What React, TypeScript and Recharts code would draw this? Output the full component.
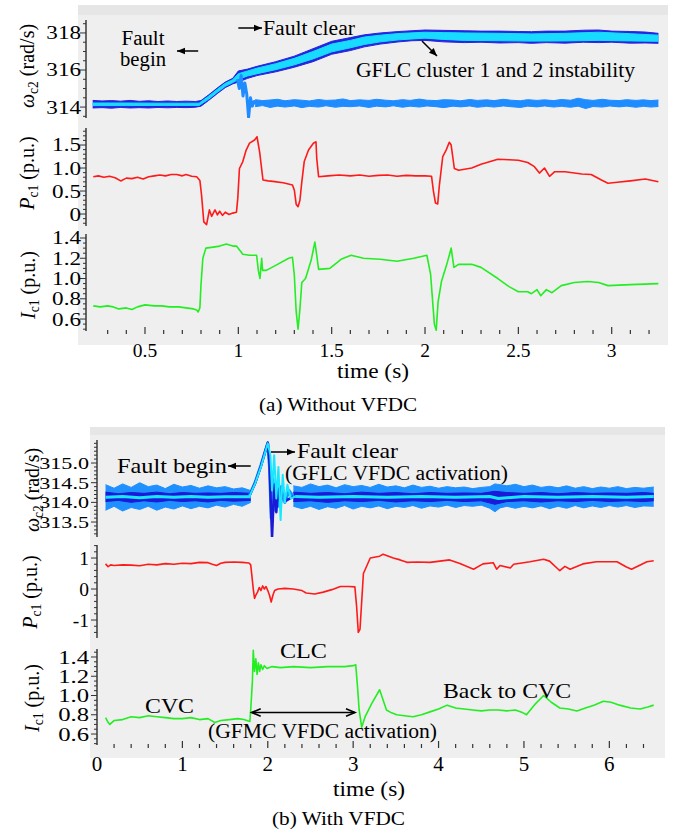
import React from 'react';
import { ComposedChart, Line, Area, XAxis, YAxis, ReferenceLine } from 'recharts';

const W = 675;
const H = 829;
const FONT = '"Liberation Serif", "Times New Roman", serif';

type P2 = [number, number];
type P3 = [number, number, number];

// ================= (a) Without VFDC =================
const faultTimesA = [0.785, 1.0];
const xMajorA = [0.5, 1, 1.5, 2, 2.5, 3];
const xLabelsA = ['0.5', '1', '1.5', '2', '2.5', '3'];
const omegaMajorA = [314, 316, 318];
const omegaLabelsA = ['314', '316', '318'];
const pMajorA = [0, 0.5, 1, 1.5];
const pLabelsA = ['0', '0.5', '1.0', '1.5'];
const iMajorA = [0.6, 0.8, 1.0, 1.2, 1.4];
const iLabelsA = ['0.6', '0.8', '1.0', '1.2', '1.4'];

// GFLC cluster 1 & 2 (unstable): outer (blue) and inner (cyan) bands [t, low, high]
const omegaA_outer: P3[] = [
  [0.22, 313.95, 314.36], [0.27, 313.97, 314.33], [0.32, 313.94, 314.35], [0.37, 313.98, 314.32],
  [0.42, 313.95, 314.36], [0.47, 313.97, 314.31], [0.52, 313.95, 314.34], [0.57, 313.98, 314.3],
  [0.62, 313.96, 314.33], [0.67, 313.98, 314.3], [0.72, 313.97, 314.32], [0.77, 313.99, 314.3],
  [0.8, 314.05, 314.35], [0.84, 314.35, 314.65], [0.89, 314.75, 315.05], [0.93, 315.05, 315.35],
  [0.97, 315.25, 315.55], [1.0, 315.35, 315.95], [1.05, 315.55, 316.05], [1.1, 315.7, 316.2],
  [1.2, 315.9, 316.45], [1.3, 316.15, 316.75], [1.4, 316.45, 317.15], [1.5, 316.85, 317.55],
  [1.6, 317.05, 317.75], [1.675, 317.25, 317.9], [1.76, 317.4, 318.0], [1.86, 317.52, 318.08],
  [1.93, 317.58, 318.12], [2.0, 317.6, 318.16], [2.1, 317.52, 318.14], [2.21, 317.48, 318.12],
  [2.3, 317.5, 318.1], [2.4, 317.46, 318.1], [2.5, 317.48, 318.08], [2.57, 317.44, 318.07],
  [2.65, 317.48, 318.1], [2.75, 317.45, 318.1], [2.85, 317.5, 318.15], [2.93, 317.48, 318.16],
  [3.0, 317.5, 318.1], [3.1, 317.45, 318.08], [3.18, 317.46, 318.05], [3.25, 317.44, 317.98],
];
const omegaA_inner: P3[] = [
  [0.22, 314.08, 314.22], [0.4, 314.08, 314.22], [0.6, 314.09, 314.21], [0.79, 314.09, 314.21],
  [0.84, 314.42, 314.58], [0.89, 314.82, 314.98], [0.93, 315.12, 315.28], [0.97, 315.32, 315.48],
  [1.0, 315.5, 315.8], [1.05, 315.68, 315.95], [1.1, 315.8, 316.1], [1.2, 316.02, 316.34],
  [1.3, 316.28, 316.63], [1.4, 316.6, 317.0], [1.5, 316.98, 317.4], [1.6, 317.2, 317.6],
  [1.675, 317.38, 317.78], [1.76, 317.52, 317.88], [1.86, 317.63, 317.97], [2.0, 317.72, 318.04],
  [2.1, 317.65, 318.02], [2.21, 317.6, 318.0], [2.4, 317.58, 317.98], [2.57, 317.56, 317.95],
  [2.75, 317.57, 317.98], [2.93, 317.6, 318.04], [3.1, 317.57, 317.96], [3.25, 317.55, 317.88],
];
// remaining (stable) GFLC cluster: transient right after clearing, then noisy band
const omegaA_stableTr: P2[] = [
  [0.995, 315.5], [1.005, 315.0], [1.015, 315.7], [1.025, 314.6], [1.035, 315.3], [1.045, 314.7],
  [1.055, 313.45], [1.065, 314.5], [1.075, 314.05], [1.085, 314.3], [1.095, 314.2],
];
const omegaA_stableBand: P3[] = [
  [1.09, 314.02, 314.4], [1.13, 314.08, 314.35], [1.17, 313.98, 314.38], [1.21, 314.05, 314.42],
  [1.25, 314.0, 314.34], [1.3, 314.06, 314.4], [1.34, 313.97, 314.37], [1.38, 314.04, 314.33],
  [1.43, 314.0, 314.41], [1.47, 314.07, 314.36], [1.52, 313.99, 314.38], [1.56, 314.04, 314.44],
  [1.6, 314.02, 314.35], [1.65, 314.06, 314.39], [1.7, 313.98, 314.36], [1.74, 314.05, 314.42],
  [1.79, 314.01, 314.37], [1.83, 314.07, 314.34], [1.88, 313.99, 314.4], [1.92, 314.05, 314.36],
  [1.97, 314.0, 314.43], [2.01, 314.06, 314.37], [2.06, 314.02, 314.35], [2.1, 313.97, 314.4],
  [2.15, 314.05, 314.38], [2.19, 314.01, 314.34], [2.24, 314.06, 314.41], [2.28, 313.99, 314.36],
  [2.33, 314.04, 314.39], [2.37, 314.0, 314.35], [2.42, 314.06, 314.42], [2.46, 314.02, 314.37],
  [2.51, 313.98, 314.34], [2.55, 314.05, 314.4], [2.6, 314.01, 314.36], [2.64, 314.06, 314.39],
  [2.69, 314.0, 314.35], [2.73, 314.04, 314.41], [2.78, 313.99, 314.37], [2.82, 314.05, 314.48],
  [2.86, 313.92, 314.4], [2.9, 314.03, 314.36], [2.95, 314.0, 314.42], [2.99, 314.06, 314.37],
  [3.04, 314.01, 314.35], [3.08, 314.05, 314.4], [3.13, 313.99, 314.36], [3.17, 314.04, 314.39],
  [3.21, 314.0, 314.35], [3.25, 314.03, 314.38],
];
const pA: P2[] = [
  [0.223, 0.81], [0.25, 0.83], [0.28, 0.8], [0.31, 0.82], [0.34, 0.79], [0.37, 0.72], [0.4, 0.78],
  [0.43, 0.77], [0.46, 0.8], [0.49, 0.76], [0.52, 0.81], [0.55, 0.83], [0.58, 0.85], [0.61, 0.83],
  [0.64, 0.86], [0.67, 0.86], [0.7, 0.83], [0.72, 0.86], [0.75, 0.82], [0.777, 0.81], [0.794, 0.73],
  [0.803, 0.41], [0.815, -0.17], [0.83, -0.23], [0.845, 0.09], [0.857, -0.05], [0.875, 0.09],
  [0.888, -0.02], [0.9, 0.06], [0.915, -0.03], [0.93, 0.04], [0.95, -0.01], [0.97, 0.02],
  [0.99, 0.04], [0.997, 0.34], [1.006, 0.99], [1.024, 1.14], [1.042, 1.39], [1.06, 1.54],
  [1.087, 1.61], [1.1, 1.68], [1.114, 1.35], [1.132, 0.74], [1.16, 0.72], [1.185, 0.71],
  [1.24, 0.68], [1.29, 0.63], [1.3, 0.52], [1.31, 0.21], [1.32, 0.16], [1.33, 0.3], [1.34, 0.7],
  [1.353, 1.14], [1.376, 1.39], [1.402, 1.54], [1.416, 1.57], [1.42, 1.21], [1.43, 0.81],
  [1.48, 0.83], [1.54, 0.85], [1.6, 0.83], [1.65, 0.85], [1.7, 0.82], [1.75, 0.84], [1.8, 0.85],
  [1.85, 0.82], [1.9, 0.84], [1.95, 0.83], [2.0, 0.83], [2.035, 0.82], [2.045, 0.5], [2.056, 0.24],
  [2.068, 0.22], [2.077, 0.63], [2.095, 1.25], [2.113, 1.39], [2.13, 1.56], [2.14, 1.5],
  [2.157, 0.99], [2.18, 0.95], [2.25, 1.0], [2.3, 1.08], [2.39, 1.19], [2.45, 1.18], [2.5, 1.17],
  [2.55, 1.12], [2.586, 1.03], [2.613, 0.89], [2.64, 1.0], [2.667, 0.82], [2.695, 0.92],
  [2.75, 0.92], [2.84, 0.87], [2.89, 0.86], [2.945, 0.74], [2.98, 0.67], [3.03, 0.69], [3.1, 0.72],
  [3.18, 0.76], [3.25, 0.7],
];
const iA: P2[] = [
  [0.223, 0.73], [0.26, 0.72], [0.3, 0.73], [0.33, 0.72], [0.36, 0.7], [0.4, 0.71], [0.43, 0.695],
  [0.46, 0.72], [0.5, 0.74], [0.55, 0.73], [0.59, 0.73], [0.63, 0.72], [0.68, 0.72], [0.72, 0.71],
  [0.76, 0.7], [0.777, 0.69], [0.785, 0.67], [0.794, 0.71], [0.8, 0.94], [0.81, 1.2], [0.826, 1.3],
  [0.865, 1.31], [0.9, 1.32], [0.936, 1.34], [0.97, 1.32], [0.99, 1.32], [1.024, 1.24], [1.06, 1.23],
  [1.098, 1.23], [1.107, 1.08], [1.116, 1.0], [1.125, 1.2], [1.13, 1.08], [1.15, 1.08], [1.2, 1.13],
  [1.27, 1.2], [1.29, 1.21], [1.3, 1.03], [1.31, 0.67], [1.32, 0.5], [1.33, 0.7], [1.34, 0.96],
  [1.36, 1.0], [1.39, 1.18], [1.41, 1.36], [1.42, 1.23], [1.43, 1.09], [1.49, 1.1], [1.55, 1.19],
  [1.604, 1.23], [1.67, 1.2], [1.76, 1.19], [1.85, 1.17], [1.94, 1.2], [2.01, 1.23], [2.03, 1.04],
  [2.05, 0.55], [2.06, 0.49], [2.07, 0.77], [2.088, 0.97], [2.115, 1.13], [2.13, 1.23], [2.14, 1.3],
  [2.155, 1.11], [2.18, 1.14], [2.25, 1.14], [2.3, 1.11], [2.39, 1.0], [2.45, 0.92], [2.5, 0.87],
  [2.55, 0.87], [2.57, 0.85], [2.6, 0.89], [2.62, 0.83], [2.65, 0.89], [2.68, 0.86], [2.73, 0.93],
  [2.8, 0.96], [2.87, 0.97], [2.93, 0.96], [2.98, 0.93], [3.1, 0.94], [3.25, 0.95],
];

// ================= (b) With VFDC =================
const faultTimesB = [1.8, 2.037, 3.033];
const xMajorB = [0, 1, 2, 3, 4, 5, 6];
const xLabelsB = ['0', '1', '2', '3', '4', '5', '6'];
const omegaMajorB = [313.5, 314.0, 314.5, 315.0];
const omegaLabelsB = ['313.5', '314.0', '314.5', '315.0'];
const pMajorB = [-1, 0, 1];
const pLabelsB = ['-1', '0', '1'];
const iMajorB = [0.6, 0.8, 1.0, 1.2, 1.4];
const iLabelsB = ['0.6', '0.8', '1.0', '1.2', '1.4'];

const omegaB_lightPre: P3[] = [
  [0.1, 313.8, 314.45], [0.2, 313.9, 314.36], [0.3, 313.78, 314.47], [0.4, 313.87, 314.38],
  [0.5, 313.82, 314.5], [0.6, 313.9, 314.4], [0.7, 313.8, 314.44], [0.8, 313.88, 314.35],
  [0.9, 313.83, 314.46], [1.0, 313.91, 314.39], [1.1, 313.84, 314.43], [1.2, 313.9, 314.36],
  [1.3, 313.86, 314.42], [1.4, 313.93, 314.37], [1.5, 313.88, 314.4], [1.6, 313.95, 314.34],
  [1.7, 313.9, 314.37], [1.8, 314.0, 314.3],
];
const omegaB_lightPost: P3[] = [
  [2.3, 313.9, 314.42], [2.4, 313.84, 314.38], [2.5, 313.9, 314.47], [2.6, 313.82, 314.4],
  [2.7, 313.89, 314.44], [2.8, 313.85, 314.37], [2.9, 313.92, 314.45], [3.0, 313.83, 314.4],
  [3.1, 313.9, 314.43], [3.2, 313.86, 314.38], [3.3, 313.91, 314.46], [3.4, 313.84, 314.39],
  [3.5, 313.9, 314.42], [3.6, 313.87, 314.37], [3.7, 313.92, 314.44], [3.8, 313.85, 314.38],
  [3.9, 313.91, 314.41], [4.0, 313.88, 314.36], [4.1, 313.93, 314.4], [4.2, 313.87, 314.37],
  [4.3, 313.92, 314.39], [4.4, 313.9, 314.35], [4.5, 313.93, 314.38], [4.6, 313.85, 314.4],
  [4.66, 313.76, 314.47], [4.72, 313.86, 314.45], [4.8, 313.9, 314.42], [4.9, 313.85, 314.46],
  [5.0, 313.9, 314.4], [5.1, 313.86, 314.44], [5.2, 313.91, 314.38], [5.3, 313.84, 314.41],
  [5.4, 313.9, 314.37], [5.5, 313.85, 314.42], [5.6, 313.92, 314.36], [5.7, 313.86, 314.4],
  [5.8, 313.91, 314.35], [5.9, 313.87, 314.39], [6.0, 313.92, 314.36], [6.1, 313.88, 314.4],
  [6.2, 313.92, 314.35], [6.3, 313.87, 314.38], [6.4, 313.91, 314.36], [6.52, 313.9, 314.39],
];
const omegaB_darkPre: P3[] = [
  [0.1, 314.02, 314.26], [0.25, 314.05, 314.22], [0.4, 314.0, 314.25], [0.55, 314.04, 314.23],
  [0.7, 314.01, 314.26], [0.85, 314.05, 314.22], [1.0, 314.02, 314.25], [1.15, 314.04, 314.23],
  [1.3, 314.01, 314.24], [1.45, 314.05, 314.23], [1.6, 314.03, 314.25], [1.8, 314.05, 314.23],
];
const omegaB_darkPost: P3[] = [
  [2.3, 314.02, 314.26], [2.5, 314.04, 314.23], [2.7, 314.0, 314.25], [2.9, 314.04, 314.22],
  [3.1, 314.02, 314.26], [3.3, 314.05, 314.23], [3.5, 314.01, 314.25], [3.7, 314.04, 314.22],
  [3.9, 314.02, 314.25], [4.1, 314.05, 314.23], [4.3, 314.02, 314.24], [4.5, 314.04, 314.23],
  [4.66, 313.95, 314.28], [4.8, 314.02, 314.25], [5.0, 314.04, 314.23], [5.2, 314.01, 314.25],
  [5.4, 314.04, 314.22], [5.6, 314.02, 314.25], [5.8, 314.05, 314.23], [6.0, 314.02, 314.24],
  [6.2, 314.04, 314.23], [6.4, 314.02, 314.25], [6.52, 314.04, 314.23],
];
const omegaB_cyanPre: P2[] = [
  [0.1, 314.13], [0.3, 314.15], [0.5, 314.12], [0.7, 314.15], [0.9, 314.13], [1.1, 314.15],
  [1.3, 314.13], [1.5, 314.14], [1.8, 314.14],
];
const omegaB_cyanPost: P2[] = [
  [2.32, 314.15], [2.6, 314.13], [3.0, 314.15], [3.4, 314.13], [3.8, 314.15], [4.2, 314.13],
  [4.6, 314.15], [4.7, 314.1], [5.0, 314.15], [5.4, 314.13], [5.8, 314.15], [6.2, 314.13],
  [6.52, 314.15],
];
const omegaB_lightTr: P2[] = [
  [1.78, 314.15], [1.85, 314.5], [1.92, 314.95], [1.97, 315.3], [2.0, 315.5], [2.02, 314.9],
  [2.04, 313.6], [2.06, 314.6], [2.08, 313.8], [2.1, 314.5], [2.13, 313.9], [2.16, 314.4],
  [2.2, 314.0], [2.25, 314.3], [2.3, 314.15],
];
const omegaB_darkTr: P2[] = [
  [1.78, 314.14], [1.85, 314.48], [1.92, 314.92], [1.97, 315.3], [2.0, 315.52], [2.02, 315.0],
  [2.035, 314.0], [2.05, 313.1], [2.065, 313.9], [2.08, 314.45], [2.1, 313.75], [2.12, 314.35],
  [2.15, 313.95], [2.18, 314.3], [2.22, 314.05], [2.3, 314.15],
];
const omegaB_cyanTr: P2[] = [
  [1.78, 314.13], [1.85, 314.47], [1.92, 314.9], [1.97, 315.28], [2.0, 315.5], [2.03, 315.2],
  [2.05, 314.3], [2.075, 315.2], [2.1, 314.1], [2.125, 314.9], [2.15, 313.55], [2.175, 314.7],
  [2.2, 314.0], [2.23, 314.45], [2.27, 314.1], [2.32, 314.15],
];
const pB: P2[] = [
  [0.1, 0.81], [0.13, 0.72], [0.16, 0.78], [0.2, 0.76], [0.3, 0.78], [0.4, 0.77], [0.5, 0.75],
  [0.6, 0.8], [0.7, 0.78], [0.8, 0.82], [0.9, 0.8], [1.0, 0.83], [1.1, 0.82], [1.2, 0.86],
  [1.3, 0.85], [1.35, 0.8], [1.4, 0.76], [1.45, 0.83], [1.5, 0.86], [1.6, 0.87], [1.7, 0.86],
  [1.78, 0.84], [1.8, 0.78], [1.815, 0.4], [1.83, 0.0], [1.845, -0.3], [1.86, -0.2], [1.88, -0.1],
  [1.9, 0.05], [1.92, -0.05], [1.94, 0.1], [1.96, 0.0], [1.98, 0.08], [2.0, -0.05], [2.02, -0.2],
  [2.04, -0.42], [2.06, -0.2], [2.08, -0.05], [2.12, 0.0], [2.2, 0.02], [2.3, 0.0], [2.4, -0.05],
  [2.45, -0.13], [2.55, -0.16], [2.65, -0.1], [2.75, -0.02], [2.85, 0.08], [2.95, 0.08],
  [3.02, 0.07], [3.04, -0.55], [3.06, -1.4], [3.08, -1.3], [3.1, -0.4], [3.12, 0.5], [3.2, 1.0],
  [3.31, 1.06], [3.35, 1.12], [3.47, 1.0], [3.55, 0.94], [3.63, 0.86], [3.75, 0.87], [3.9, 0.86],
  [4.13, 0.94], [4.25, 0.82], [4.41, 0.64], [4.52, 0.81], [4.64, 0.85], [4.68, 0.64], [4.72, 0.76],
  [4.84, 0.68], [4.88, 0.8], [5.07, 0.88], [5.23, 0.96], [5.3, 0.9], [5.42, 0.59], [5.48, 0.73],
  [5.54, 0.64], [5.69, 0.81], [5.85, 0.88], [6.09, 0.88], [6.2, 0.71], [6.26, 0.64], [6.32, 0.72],
  [6.44, 0.88], [6.52, 0.91],
];
const iB: P2[] = [
  [0.1, 0.77], [0.13, 0.72], [0.15, 0.7], [0.2, 0.74], [0.3, 0.75], [0.4, 0.78], [0.5, 0.77],
  [0.6, 0.79], [0.7, 0.78], [0.8, 0.77], [0.9, 0.76], [1.0, 0.76], [1.1, 0.77], [1.2, 0.75],
  [1.3, 0.76], [1.38, 0.72], [1.45, 0.74], [1.55, 0.75], [1.65, 0.76], [1.72, 0.75], [1.79, 0.73],
  [1.8, 0.85], [1.82, 1.15], [1.83, 1.47], [1.845, 1.25], [1.86, 1.38], [1.875, 1.22], [1.89, 1.34],
  [1.905, 1.25], [1.92, 1.32], [1.94, 1.27], [1.96, 1.31], [1.99, 1.28], [2.05, 1.3], [2.15, 1.29],
  [2.3, 1.3], [2.5, 1.29], [2.7, 1.3], [2.9, 1.3], [3.0, 1.31], [3.03, 1.32], [3.05, 1.1],
  [3.07, 0.85], [3.1, 0.67], [3.14, 0.78], [3.22, 0.92], [3.31, 1.06], [3.39, 0.85], [3.45, 0.82],
  [3.51, 0.8], [3.6, 0.79], [3.7, 0.78], [3.8, 0.8], [3.9, 0.83], [4.0, 0.86], [4.1, 0.9],
  [4.2, 0.87], [4.3, 0.86], [4.4, 0.85], [4.5, 0.84], [4.6, 0.85], [4.7, 0.85], [4.8, 0.84],
  [4.9, 0.85], [4.99, 0.82], [5.03, 0.8], [5.12, 0.9], [5.23, 1.0], [5.32, 0.93], [5.42, 0.87],
  [5.52, 0.86], [5.62, 0.84], [5.72, 0.87], [5.82, 0.9], [5.93, 0.94], [6.02, 0.93], [6.12, 0.9],
  [6.25, 0.87], [6.36, 0.86], [6.45, 0.88], [6.52, 0.9],
];

// ================= helpers =================
const steps = (from: number, to: number, step: number): number[] => {
  const n = Math.round((to - from) / step);
  const out: number[] = [];
  for (let i = 0; i <= n; i++) out.push(+(from + i * step).toFixed(6));
  return out;
};
const toLine = (a: P2[]) => a.map(([t, v]) => ({ t, v }));
const toBand = (a: P3[]) => a.map(([t, lo, hi]) => ({ t, r: [lo, hi] }));
const approxW = (s: string, fs: number) =>
  s.split('').reduce((w, c) => w + (c === '.' ? 0.25 : c === '-' ? 0.333 : 0.5), 0) * fs;

const mkLine = (key: string, d: P2[], color: string, w: number) => (
  <Line key={key} data={toLine(d)} dataKey="v" type="linear" stroke={color} strokeWidth={w}
    strokeLinejoin="round" dot={false} activeDot={false} isAnimationActive={false} />
);
const mkBand = (key: string, d: P3[], color: string) => (
  <Area key={key} data={toBand(d)} dataKey="r" type="linear" stroke={color} strokeWidth={1}
    fill={color} fillOpacity={1} dot={false} activeDot={false} isAnimationActive={false} />
);

interface YSpec {
  ticks: number[];
  majors: number[];
  labels: string[];
  fs: number;
  gap: number;
  stretch: number;
}

const yTick = (s: YSpec) => (p: any) => {
  const { x, y, payload } = p;
  const idx = s.majors.findIndex((m) => Math.abs(m - payload.value) < 1e-6);
  const lab = idx >= 0 ? s.labels[idx] : '';
  const tl = s.stretch !== 1 ? approxW(lab, s.fs) * s.stretch : undefined;
  return (
    <g>
      <line x1={x} x2={x - (idx >= 0 ? 6 : 3)} y1={y} y2={y} stroke="#333" strokeWidth={1} />
      {idx >= 0 ? (
        <text x={x - s.gap} y={y} dy="0.35em" textAnchor="end" fontFamily={FONT} fontSize={s.fs}
          fill="#000" textLength={tl} lengthAdjust="spacingAndGlyphs">{lab}</text>
      ) : null}
    </g>
  );
};

function Panel(props: {
  top: number; bottom: number; left: number; right: number;
  xDomain: [number, number]; yDomain: [number, number]; y: YSpec; children: React.ReactNode;
}) {
  const YW = 60;
  const { top, bottom, left, right } = props;
  return (
    <div style={{ position: 'absolute', left: 0, top: 0 }}>
      <ComposedChart width={W} height={H}
        margin={{ top, bottom: H - bottom, left: left - YW, right: W - right }}>
        <XAxis type="number" dataKey="t" domain={props.xDomain} allowDataOverflow hide />
        <YAxis type="number" domain={props.yDomain} allowDataOverflow width={YW} ticks={props.y.ticks}
          interval={0} tickLine={false} tickSize={0} tickMargin={0}
          axisLine={{ stroke: '#3a3a3a', strokeWidth: 1.5 }} tick={yTick(props.y)} />
        {props.children}
      </ComposedChart>
    </div>
  );
}

function Frame(props: {
  top: number; bottom: number; left: number; right: number;
  xDomain: [number, number]; xTicks: number[]; xMajors: number[]; xLabels: string[]; xFs: number;
  axisFrom: number; axisTo: number; faults: { t: number; y1: number; y2: number }[]; rightStep: number;
}) {
  const XH = 40;
  const { top, bottom, left, right } = props;
  const fy = (px: number) => (bottom - px) / (bottom - top);
  const rTicks = steps(0, 1, props.rightStep / (bottom - top)).filter((v) => v <= 1);
  const xTick = (p: any) => {
    const { x, y, payload } = p;
    const v = payload.value;
    const idx = props.xMajors.findIndex((m) => Math.abs(m - v) < 1e-6);
    const showLine = v >= props.axisFrom - 1e-6;
    return (
      <g>
        {showLine ? <line x1={x} x2={x} y1={y} y2={y - (idx >= 0 ? 7 : 4)} stroke="#333" strokeWidth={1.2} /> : null}
        {idx >= 0 ? (
          <text x={x} y={y + 23} textAnchor="middle" fontFamily={FONT} fontSize={props.xFs} fill="#000">
            {props.xLabels[idx]}
          </text>
        ) : null}
      </g>
    );
  };
  const rTick = (p: any) => (
    <line x1={p.x} x2={p.x + 3} y1={p.y} y2={p.y} stroke="#555" strokeWidth={1} />
  );
  return (
    <div style={{ position: 'absolute', left: 0, top: 0 }}>
      <ComposedChart width={W} height={H}
        margin={{ top, bottom: H - bottom - XH, left, right: W - right }}>
        <XAxis type="number" dataKey="t" domain={props.xDomain} allowDataOverflow ticks={props.xTicks}
          interval={0} height={XH} axisLine={false} tickLine={false} tickSize={0} tickMargin={0} tick={xTick} />
        <YAxis hide type="number" domain={[0, 1]} />
        <YAxis yAxisId="r" orientation="right" width={0} type="number" domain={[0, 1]} ticks={rTicks}
          interval={0} tickLine={false} tickSize={0} tickMargin={0}
          axisLine={{ stroke: '#666', strokeWidth: 1.2 }} tick={rTick} />
        {props.faults.map((f, i) => (
          <ReferenceLine key={'f' + i} segment={[{ x: f.t, y: fy(f.y1) }, { x: f.t, y: fy(f.y2) }]}
            stroke="#8c8c8c" strokeDasharray="3 3" strokeWidth={1.3} ifOverflow="visible" />
        ))}
        <ReferenceLine segment={[{ x: props.axisFrom, y: 0 }, { x: props.axisTo, y: 0 }]}
          stroke="#3a3a3a" strokeWidth={2} ifOverflow="visible" />
      </ComposedChart>
    </div>
  );
}

// overlay helpers
function Arrow({ x1, y1, x2, y2, head = 8, open = false, both = false }:
  { x1: number; y1: number; x2: number; y2: number; head?: number; open?: boolean; both?: boolean }) {
  const tip = (x: number, y: number, ang: number, k: string) => {
    const bx = x - head * Math.cos(ang);
    const by = y - head * Math.sin(ang);
    const w = head * 0.42;
    const pA = [bx + w * Math.sin(ang), by - w * Math.cos(ang)];
    const pB = [bx - w * Math.sin(ang), by + w * Math.cos(ang)];
    return open ? (
      <polyline key={k} points={`${pA[0]},${pA[1]} ${x},${y} ${pB[0]},${pB[1]}`} fill="none" stroke="#000" strokeWidth={1.6} />
    ) : (
      <polygon key={k} points={`${x},${y} ${pA[0]},${pA[1]} ${pB[0]},${pB[1]}`} fill="#000" />
    );
  };
  const ang = Math.atan2(y2 - y1, x2 - x1);
  return (
    <g>
      <line x1={x1} y1={y1} x2={x2} y2={y2} stroke="#000" strokeWidth={1.5} />
      {tip(x2, y2, ang, 'a')}
      {both ? tip(x1, y1, ang + Math.PI, 'b') : null}
    </g>
  );
}

function T({ x, y, fs, len, anchor = 'start', children }:
  { x: number; y: number; fs: number; len?: number; anchor?: string; children: React.ReactNode }) {
  return (
    <text x={x} y={y} fontSize={fs} fontFamily={FONT} fill="#000" textAnchor={anchor as any}
      textLength={len} lengthAdjust={len ? 'spacingAndGlyphs' : undefined}>{children}</text>
  );
}

function YTitle({ x, y, sym, sub, unit, fs = 20 }:
  { x: number; y: number; sym: string; sub: string; unit: string; fs?: number }) {
  return (
    <text x={x} y={y} fontSize={fs} fontFamily={FONT} fill="#000" textAnchor="middle"
      transform={`rotate(-90, ${x}, ${y})`}>
      <tspan fontStyle="italic">{sym}</tspan>
      <tspan fontSize={fs * 0.68} dy={fs * 0.2}>{sub}</tspan>
      <tspan dy={-fs * 0.2}>{' (' + unit + ')'}</tspan>
    </text>
  );
}

// layout (pixels)
const A = { left: 86, right: 665, t0: 0.184, t1: 3.2855 };
const B = { left: 97, right: 661, t0: 0, t1: 6.605 };
const pxA = (t: number) => A.left + ((t - A.t0) / (A.t1 - A.t0)) * (A.right - A.left);
const pxB = (t: number) => B.left + ((t - B.t0) / (B.t1 - B.t0)) * (B.right - B.left);

export default function App() {
  const xdA: [number, number] = [A.t0, A.t1];
  const xdB: [number, number] = [B.t0, B.t1];
  const fb = pxA(faultTimesA[0]);
  const fc = pxA(faultTimesA[1]);
  const fbB = pxB(faultTimesB[0]);
  const fcB = pxB(faultTimesB[1]);
  const fdB = pxB(faultTimesB[2]);
  return (
    <div style={{ position: 'absolute', left: 0, top: 0, width: W, height: H, background: '#fff', overflow: 'hidden' }}>
      {/* gray plot backgrounds */}
      <div style={{ position: 'absolute', left: 78, top: 5, width: 590, height: 340, background: '#efefef' }} />
      <div style={{ position: 'absolute', left: 78, top: 5, width: 590, height: 10, background: '#e6e6e6' }} />
      <div style={{ position: 'absolute', left: 90, top: 427, width: 575, height: 331, background: '#efefef' }} />
      <div style={{ position: 'absolute', left: 90, top: 427, width: 575, height: 8, background: '#e6e6e6' }} />

      {/* ---------- (a) ---------- */}
      <Frame top={14} bottom={334} left={A.left} right={A.right} xDomain={xdA}
        xTicks={steps(0.3, 3.2, 0.1)} xMajors={xMajorA} xLabels={xLabelsA} xFs={19.5}
        axisFrom={0.23} axisTo={3.25} rightStep={13}
        faults={[{ t: faultTimesA[0], y1: 20, y2: 334 }, { t: faultTimesA[1], y1: 20, y2: 334 }]} />
      <Panel top={20} bottom={118} left={A.left} right={A.right} xDomain={xdA} yDomain={[313.41, 318.7]}
        y={{ ticks: steps(313.5, 318.5, 0.5), majors: omegaMajorA, labels: omegaLabelsA, fs: 18.5, gap: 5, stretch: 1.25 }}>
        {[
          mkBand('stableBand', omegaA_stableBand, '#1e8cff'),
          mkLine('stableTr', omegaA_stableTr, '#1e8cff', 3),
          mkBand('outer', omegaA_outer, '#2525e0'),
          mkBand('inner', omegaA_inner, '#18dcff'),
        ]}
      </Panel>
      <Panel top={128} bottom={226} left={A.left} right={A.right} xDomain={xdA} yDomain={[-0.26, 1.87]}
        y={{ ticks: steps(-0.2, 1.8, 0.1), majors: pMajorA, labels: pLabelsA, fs: 18.5, gap: 5, stretch: 1.25 }}>
        {[mkLine('pA', pA, '#ff1a1a', 1.6)]}
      </Panel>
      <Panel top={234} bottom={331} left={A.left} right={A.right} xDomain={xdA} yDomain={[0.482, 1.4395]}
        y={{ ticks: steps(0.5, 1.4, 0.05), majors: iMajorA, labels: iLabelsA, fs: 18.5, gap: 5, stretch: 1.25 }}>
        {[mkLine('iA', iA, '#22ee22', 1.6)]}
      </Panel>

      {/* ---------- (b) ---------- */}
      <Frame top={433} bottom={748} left={B.left} right={B.right} xDomain={xdB}
        xTicks={steps(0, 6.4, 0.2)} xMajors={xMajorB} xLabels={xLabelsB} xFs={21}
        axisFrom={0.117} axisTo={6.52} rightStep={13.3}
        faults={[
          { t: faultTimesB[0], y1: 440, y2: 748 },
          { t: faultTimesB[1], y1: 440, y2: 615 },
          { t: faultTimesB[2], y1: 548, y2: 755 },
        ]} />
      <Panel top={440} bottom={537} left={B.left} right={B.right} xDomain={xdB} yDomain={[313.12, 315.585]}
        y={{ ticks: steps(313.2, 315.5, 0.1), majors: omegaMajorB, labels: omegaLabelsB, fs: 17, gap: 8, stretch: 1.3 }}>
        {[
          mkBand('lpre', omegaB_lightPre, '#1e90ff'),
          mkBand('lpost', omegaB_lightPost, '#1e90ff'),
          mkLine('ltr', omegaB_lightTr, '#1e90ff', 3),
          mkBand('dpre', omegaB_darkPre, '#1a1ad8'),
          mkBand('dpost', omegaB_darkPost, '#1a1ad8'),
          mkLine('dtr', omegaB_darkTr, '#1a1ad8', 2.5),
          mkLine('cpre', omegaB_cyanPre, '#19e6ff', 3),
          mkLine('cpost', omegaB_cyanPost, '#19e6ff', 3),
          mkLine('ctr', omegaB_cyanTr, '#19e6ff', 2),
        ]}
      </Panel>
      <Panel top={545} bottom={638} left={B.left} right={B.right} xDomain={xdB} yDomain={[-1.58, 1.42]}
        y={{ ticks: steps(-1.4, 1.4, 0.2), majors: pMajorB, labels: pLabelsB, fs: 19.5, gap: 8, stretch: 1 }}>
        {[mkLine('pB', pB, '#ff1a1a', 1.6)]}
      </Panel>
      <Panel top={649} bottom={745} left={B.left} right={B.right} xDomain={xdB} yDomain={[0.486, 1.483]}
        y={{ ticks: steps(0.5, 1.45, 0.05), majors: iMajorB, labels: iLabelsB, fs: 19, gap: 8, stretch: 1.3 }}>
        {[mkLine('iB', iB, '#22ee22', 1.6)]}
      </Panel>

      {/* ---------- annotations ---------- */}
      <svg width={W} height={H} style={{ position: 'absolute', left: 0, top: 0, pointerEvents: 'none' }}>
        {/* (a) */}
        <YTitle x={34} y={66} sym="ω" sub="c2" unit="rad/s" />
        <YTitle x={34} y={173} sym="P" sub="c1" unit="p.u." />
        <YTitle x={35} y={285} sym="I" sub="c1" unit="p.u." />
        <T x={143} y={45} fs={20} anchor="middle" len={43}>Fault</T>
        <T x={143} y={66} fs={20} anchor="middle" len={46}>begin</T>
        <Arrow x1={fb} y1={51} x2={177} y2={51} />
        <Arrow x1={fc} y1={28} x2={262} y2={28} />
        <T x={263} y={35} fs={20} len={92}>Fault clear</T>
        <Arrow x1={422} y1={41} x2={437} y2={56} />
        <T x={356} y={77} fs={21} len={279}>GFLC cluster 1 and 2 instability</T>
        <T x={337} y={378} fs={21} len={72}>time (s)</T>
        <T x={338} y={411} fs={19} anchor="middle" len={158}>(a) Without VFDC</T>

        {/* (b) */}
        <YTitle x={39} y={490} sym="ω" sub="c2" unit="rad/s" />
        <YTitle x={37} y={592} sym="P" sub="c1" unit="p.u." />
        <YTitle x={39} y={698} sym="I" sub="c1" unit="p.u." />
        <T x={117} y={473} fs={21} len={110}>Fault begin</T>
        <Arrow x1={fbB} y1={466} x2={228} y2={466} />
        <Arrow x1={fcB} y1={452} x2={295} y2={452} />
        <T x={297} y={458} fs={22} len={101}>Fault clear</T>
        <T x={285} y={480} fs={20} len={223}>(GFLC VFDC activation)</T>
        <T x={280} y={658} fs={22} len={47}>CLC</T>
        <T x={145} y={713} fs={22} len={49}>CVC</T>
        <T x={443} y={698} fs={22} len={128}>Back to CVC</T>
        <Arrow x1={fbB + 1} y1={712.5} x2={fdB - 1} y2={712.5} open both head={9} />
        <T x={208} y={738} fs={20} len={229}>(GFMC VFDC activation)</T>
        <T x={333} y={796} fs={21} len={72}>time (s)</T>
        <T x={272} y={825} fs={19.5} len={133}>(b) With VFDC</T>
      </svg>
    </div>
  );
}
